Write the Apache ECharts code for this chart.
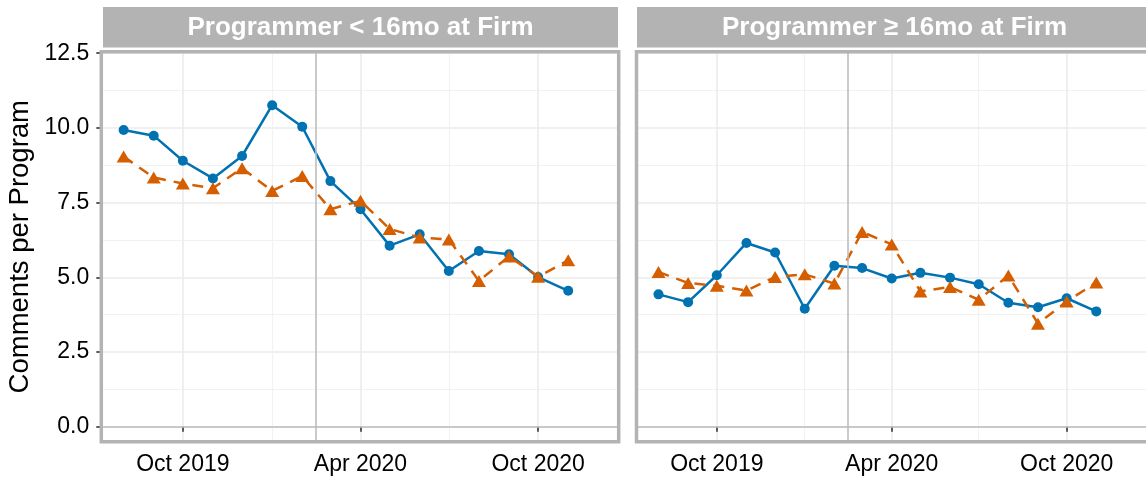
<!DOCTYPE html>
<html><head><meta charset="utf-8">
<script src="https://cdn.jsdelivr.net/npm/echarts@6/dist/echarts.min.js"></script>
<style>html,body{margin:0;padding:0;background:#fff}#c{width:1146px;height:483px}</style>
</head><body><div id="c"></div>
<script>
// ---- data ----
const months = ['2019-08-01','2019-09-01','2019-10-01','2019-11-01','2019-12-01','2020-01-01','2020-02-01','2020-03-01','2020-04-01','2020-05-01','2020-06-01','2020-07-01','2020-08-01','2020-09-01','2020-10-01','2020-11-01'];
const shortBlue   = [9.93, 9.74, 8.90, 8.31, 9.06, 10.76, 10.04, 8.22, 7.28, 6.06, 6.44, 5.21, 5.88, 5.77, 5.01, 4.55];
const shortOrange = [9.04, 8.34, 8.14, 7.98, 8.65, 7.89, 8.39, 7.28, 7.56, 6.62, 6.33, 6.27, 4.88, 5.70, 5.02, 5.57];
const longBlue    = [4.43, 4.17, 5.07, 6.15, 5.83, 3.95, 5.39, 5.31, 4.96, 5.15, 4.99, 4.77, 4.15, 4.00, 4.30, 3.86];
const longOrange  = [5.18, 4.81, 4.72, 4.56, 5.01, 5.10, 4.79, 6.52, 6.10, 4.53, 4.68, 4.25, 5.06, 3.45, 4.19, 4.83];
const panelTitles = ['Programmer < 16mo at Firm', 'Programmer \u2265 16mo at Firm'];
const yMajorTicks = [0, 2.5, 5, 7.5, 10, 12.5];
const yMinorTicks = [1.25, 3.75, 6.25, 8.75, 11.25];
const xMajorTicks = ['2019-10-01', '2020-04-01', '2020-10-01'];
const xMinorTicks = ['2020-01-01', '2020-07-01'];
const eventDate = '2020-02-15';
const zeroLine = 0;
const xRange = ['2019-07-09', '2020-12-23'];
const yRange = [-0.5, 12.55];
const yTitle = 'Comments per Program';
const monthNames = ['Jan','Feb','Mar','Apr','May','Jun','Jul','Aug','Sep','Oct','Nov','Dec'];

// ---- helpers ----
function ts(s){ const p = s.split('-').map(Number); return Date.UTC(p[0], p[1]-1, p[2]); }
function fmt(v){ const d = new Date(v); return monthNames[d.getUTCMonth()] + ' ' + d.getUTCFullYear(); }

const FONT = '"Liberation Sans", Arial, Helvetica, sans-serif';
const BLUE = '#0072B2', ORANGE = '#D55E00';
const panels = [
  { left: 101.3, top: 51.7, width: 517.4, height: 390, blue: shortBlue, orange: shortOrange, strip: [103, 618] },
  { left: 636.5, top: 51.7, width: 517.4, height: 390, blue: longBlue, orange: longOrange, strip: [637, 1152] }
];

const grid = [], xAxis = [], yAxis = [], series = [], graphic = [];
panels.forEach((p, i) => {
  grid.push({ left: p.left, top: p.top, width: p.width, height: p.height, show: true, backgroundColor: '#fff', borderWidth: 0 });
  xAxis.push({
    type: 'value', gridIndex: i, min: ts(xRange[0]), max: ts(xRange[1]),
    axisLine: { show: false },
    axisTick: { show: true, length: 5, lineStyle: { color: '#333', width: 1.6 }, customValues: xMajorTicks.map(ts) },
    axisLabel: { show: true, customValues: xMajorTicks.map(ts), formatter: fmt, fontFamily: FONT, fontSize: 23, color: '#000', margin: 11, hideOverlap: false },
    splitLine: { show: true, lineStyle: { color: '#ebebeb', width: 1.6 } }
  });
  xAxis.push({
    type: 'value', gridIndex: i, min: ts(xRange[0]), max: ts(xRange[1]),
    axisLine: { show: false },
    axisTick: { show: false, customValues: xMinorTicks.map(ts) },
    axisLabel: { show: false, customValues: xMinorTicks.map(ts) },
    splitLine: { show: true, lineStyle: { color: '#f2f2f2', width: 1.2 } }
  });
  yAxis.push({
    type: 'value', gridIndex: i, min: yRange[0], max: yRange[1],
    name: i === 0 ? yTitle : '', nameLocation: 'middle', nameGap: 67,
    nameTextStyle: { fontFamily: FONT, fontSize: 27.5, color: '#000' },
    axisLine: { show: false },
    axisTick: { show: i === 0, length: 5, lineStyle: { color: '#333', width: 1.6 }, customValues: yMajorTicks },
    axisLabel: { show: i === 0, customValues: yMajorTicks, formatter: v => Number(v).toFixed(1), fontFamily: FONT, fontSize: 23, color: '#000', margin: 12 },
    splitLine: { show: true, lineStyle: { color: '#ebebeb', width: 1.6 } }
  });
  yAxis.push({
    type: 'value', gridIndex: i, min: yRange[0], max: yRange[1],
    axisLine: { show: false },
    axisTick: { show: false, customValues: yMinorTicks },
    axisLabel: { show: false, customValues: yMinorTicks },
    splitLine: { show: true, lineStyle: { color: '#f2f2f2', width: 1.2 } }
  });
  const xi = i * 2, yi = i * 2;
  series.push({
    type: 'line', xAxisIndex: xi, yAxisIndex: yi, data: [], silent: true, z: 1,
    markLine: {
      silent: true, symbol: ['none', 'none'], label: { show: false },
      lineStyle: { color: '#bdbdbd', width: 1.6, type: 'solid' },
      data: [{ yAxis: zeroLine }, { xAxis: ts(eventDate) }]
    }
  });
  series.push({
    type: 'line', xAxisIndex: xi, yAxisIndex: yi, z: 3,
    data: months.map((m, k) => [ts(m), p.blue[k]]),
    symbol: 'circle', symbolSize: 10, showSymbol: true,
    lineStyle: { color: BLUE, width: 2.5 }, itemStyle: { color: BLUE }
  });
  series.push({
    type: 'line', xAxisIndex: xi, yAxisIndex: yi, z: 4,
    data: months.map((m, k) => [ts(m), p.orange[k]]),
    symbol: 'triangle', symbolSize: [14, 12], showSymbol: true,
    lineStyle: { color: ORANGE, width: 2.5, type: [11, 8] }, itemStyle: { color: ORANGE }
  });
  graphic.push({
    type: 'rect', z: 100, silent: true,
    shape: { x: p.left, y: p.top, width: p.width, height: p.height },
    style: { fill: null, stroke: '#b3b3b3', lineWidth: 3.5 }
  });
  graphic.push({
    type: 'rect', z: 100, silent: true,
    shape: { x: p.strip[0], y: 7, width: p.strip[1] - p.strip[0], height: 40.5 },
    style: { fill: '#b3b3b3' }
  });
  graphic.push({
    type: 'text', z: 101, silent: true,
    x: (p.strip[0] + p.strip[1]) / 2, y: 28,
    style: { text: panelTitles[i], fill: '#fff', font: 'bold 26px ' + FONT, align: 'center', verticalAlign: 'middle', textAlign: 'center', textVerticalAlign: 'middle' }
  });
});

const chart = echarts.init(document.getElementById('c'), null, { renderer: 'canvas' });
chart.setOption({ animation: false, backgroundColor: '#fff', grid, xAxis, yAxis, series, graphic });
</script></body></html>
